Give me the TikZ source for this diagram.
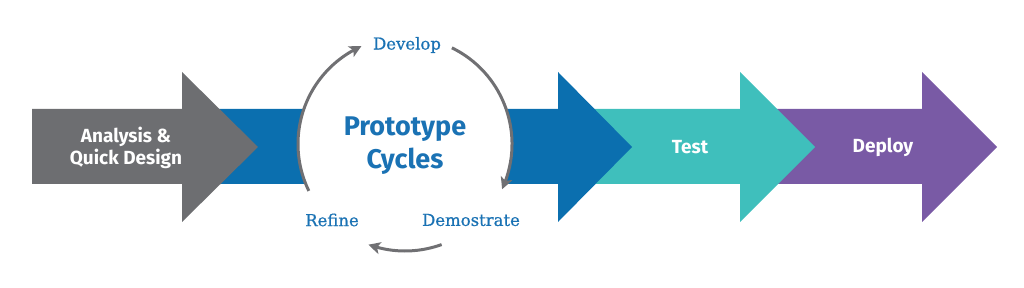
\documentclass[tikz,border=0pt]{standalone}
\usepackage{fontspec}
\newfontfamily\slab[FakeBold=0.7]{DejaVu Serif}
\newfontfamily\rsans{Fira Sans}
\usetikzlibrary{arrows.meta,bending}
\definecolor{cgray}{HTML}{6D6E71}
\definecolor{cblue}{HTML}{0B6FAF}
\definecolor{cteal}{HTML}{3FBFBC}
\definecolor{cpurple}{HTML}{795AA5}
\definecolor{ctext}{HTML}{1A72B4}
\definecolor{carc}{HTML}{707073}
\begin{document}
\begin{tikzpicture}[x=1pt,y=-1pt,
  stage/.style={text=white,font=\rsans\bfseries\fontsize{19}{22}\selectfont,align=center,inner sep=0pt},
  cyclabel/.style={text=ctext,font=\slab\fontsize{16.5}{19}\selectfont,inner sep=0pt},
  cycarc/.style={draw=carc,line width=3pt,-{Stealth[length=12pt,width=12pt,inset=3pt,bend]}}]
\useasboundingbox (0,0) rectangle (1024,288);
% arrows, drawn right to left so each head lies over the next shaft
\fill[cpurple] (745,109) -- (922,109) -- (922,72) -- (997,147) -- (922,222) -- (922,184) -- (745,184) -- cycle;
\fill[cteal] (562,109) -- (740,109) -- (740,72) -- (815,147) -- (740,222) -- (740,184) -- (562,184) -- cycle;
\fill[cblue] (200,109) -- (558,109) -- (558,72) -- (632,147) -- (558,222) -- (558,184) -- (200,184) -- cycle;
\fill[cgray] (32,109) -- (182,109) -- (182,72) -- (258,147) -- (182,222) -- (182,184) -- (32,184) -- cycle;
% cycle
\coordinate (c) at (405,144);
\fill[white] (c) circle[radius=107];
\draw[cycarc] ([shift={(154:107)}]c) arc[start angle=154,end angle=246,radius=107];
\draw[cycarc] ([shift={(-64:107)}]c) arc[start angle=-64,end angle=25,radius=107];
\draw[cycarc] ([shift={(70:107)}]c) arc[start angle=70,end angle=110,radius=107];
% texts
\node[stage] (ana) at (126,148) {Analysis \&\\Quick Design};
\node[stage] (test) at (690,147) {Test};
\node[stage] (dep) at (883,147) {Deploy};
\node[text=ctext,font=\rsans\bfseries\fontsize{27}{33}\selectfont,align=center,inner sep=0pt] (proto) at (405,146) {Prototype\\Cycles};
\node[cyclabel] (dev) at (407,45) {Develop};
\node[cyclabel] (demo) at (471,220) {Demostrate};
\node[cyclabel] (ref) at (332,220) {Refine};
\end{tikzpicture}
\end{document}
